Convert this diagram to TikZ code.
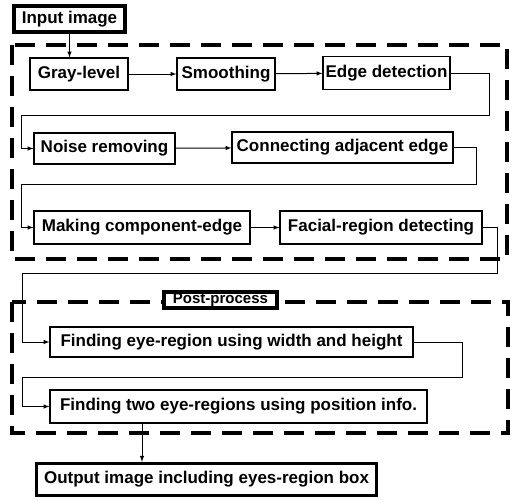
\documentclass[tikz,border=0pt]{standalone}
\usepackage{fontspec}
\setmainfont{Liberation Sans}
\tikzset{>=latex}

\begin{document}
\begin{tikzpicture}[x=1pt,y=-1pt,
	box/.style={draw,line width=1.2pt,inner sep=0pt,fill=white,font=\fontsize{17}{20}\selectfont\bfseries},
	thickbox/.style={box,line width=3.5pt},
	group/.style={line width=3.5pt,dash pattern=on 20pt off 11pt}]
	\useasboundingbox (0,0) rectangle (516,499);

	% dashed blocks
	\draw[group](12,45) rectangle (507,259);
	\draw[group](12,302) rectangle (508,433);

	\node[thickbox,minimum width=111,minimum height=26] (in) at (69.5,19) {Input image};
	\node[box,minimum width=98,minimum height=32] (gray) at (79,74) {Gray-level};
	\node[box,minimum width=98,minimum height=32] (smooth) at (226,74) {Smoothing};
	\node[box,minimum width=127,minimum height=33] (edge) at (386.5,73) {Edge detection};
	\node[box,minimum width=141,minimum height=31] (noise) at (104.5,148.5) {Noise removing};
	\node[box,minimum width=221,minimum height=31] (conn) at (342.5,147.5) {Connecting adjacent edge};
	\node[box,minimum width=216,minimum height=33] (making) at (142,227.5) {Making component-edge};
	\node[box,minimum width=202,minimum height=33] (facial) at (381,227.5) {Facial-region detecting};
	\node[thickbox,minimum width=113,minimum height=16,font=\fontsize{15}{17}\selectfont\bfseries] (post) at (220.5,300) {Post-process};
	\node[box,minimum width=363,minimum height=30] (find1) at (231.5,342) {Finding eye-region using width and height};
	\node[box,minimum width=377,minimum height=33] (find2) at (238.5,406.5) {Finding two eye-regions using position info.};
	\node[thickbox,minimum width=340,minimum height=32] (out) at (206.5,479.5) {Output image including eyes-region box};

	\coordinate (r1) at (489,115); \coordinate (l1) at (21,115);
	\coordinate (r2) at (476,184); \coordinate (l2) at (21,184);
	\coordinate (r3) at (497,273); \coordinate (l3) at (22,273);
	\coordinate (r4) at (462,377); \coordinate (l4) at (22,377);

	\draw[line width=1pt][->](in.south) -- (in.south |- gray.north);
	\draw[line width=1pt][->](gray) -- (smooth);
	\draw[line width=1pt][->](smooth) -- (edge);
	\draw[line width=1pt][->](edge.east) -| (r1) -- (l1) |- (noise.west);
	\draw[line width=1pt][->](noise) -- (conn);
	\draw[line width=1pt][->](conn.east) -| (r2) -- (l2) |- (making.west);
	\draw[line width=1pt][->](making) -- (facial);
	\draw[line width=1pt][->](facial.east) -| (r3) -- (l3) |- (find1.west);
	\draw[line width=1pt][->](find1.east) -| (r4) -- (l4) |- (find2.west);
	\draw[line width=1pt][->]([xshift=-96.5pt]find2.south) -- ([xshift=-96.5pt]find2.south |- out.north);
\end{tikzpicture}
\end{document}
